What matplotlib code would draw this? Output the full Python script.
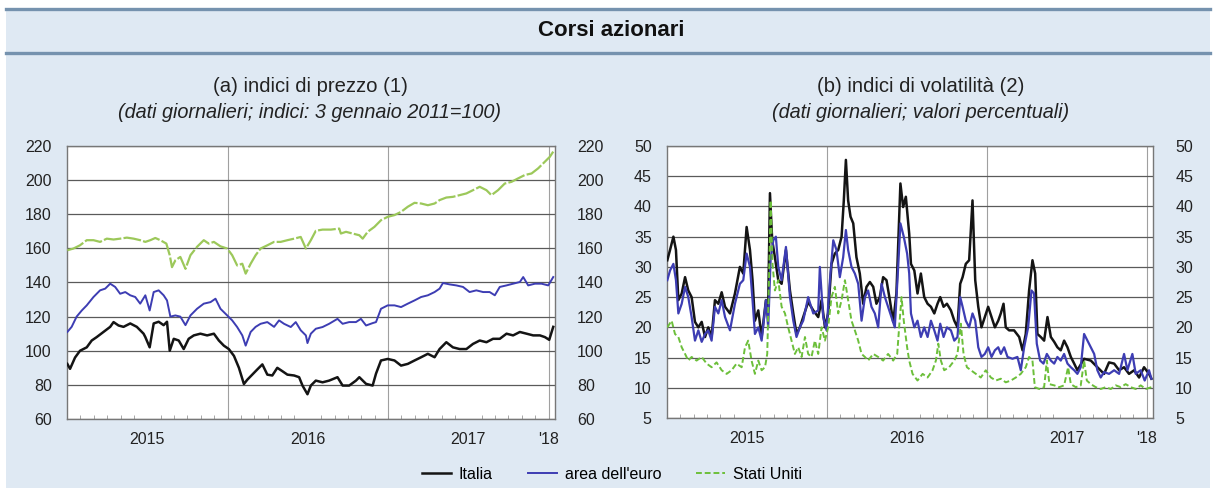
import numpy as np
import matplotlib.pyplot as plt
from matplotlib.patches import Rectangle
from matplotlib.lines import Line2D

plt.rcParams['font.family'] = ['Liberation Sans', 'DejaVu Sans']

# dates are given as years elapsed since 1 January 2015
START_YEAR = 2015

# ----------------------------------------------------------------------------
# (a) price indices (3 Jan 2011 = 100)
# ----------------------------------------------------------------------------
ita_price_t = [0.002, 0.019, 0.050, 0.081, 0.123, 0.154, 0.185, 0.227, 0.269, 0.290,
               0.321, 0.352, 0.394, 0.435, 0.477, 0.488, 0.515, 0.540, 0.571, 0.602,
               0.623, 0.640, 0.665, 0.696, 0.727, 0.758, 0.790, 0.831, 0.873, 0.915,
               0.946, 0.977, 1.008, 1.040, 1.071, 1.102, 1.123, 1.154, 1.185, 1.217,
               1.248, 1.279, 1.310, 1.342, 1.373, 1.415, 1.446, 1.467, 1.498, 1.519,
               1.550, 1.592, 1.633, 1.685, 1.717, 1.758, 1.800, 1.821, 1.863, 1.904,
               1.925, 1.956, 1.998, 2.040, 2.081, 2.123, 2.165, 2.206, 2.248, 2.290,
               2.321, 2.363, 2.404, 2.446, 2.488, 2.529, 2.571, 2.613, 2.654, 2.696,
               2.738, 2.779, 2.821, 2.863, 2.904, 2.946, 2.977, 3.004, 3.029]
ita_price_v = [92.3, 89.4, 96.0, 100.0, 102.0, 106.0, 108.0, 111.0, 114.0, 116.8,
               114.8, 114.0, 116.0, 114.0, 110.0, 108.0, 102.0, 116.0, 117.0, 115.0,
               117.0, 100.0, 107.0, 106.0, 101.0, 107.0, 109.0, 110.0, 109.0, 110.0,
               106.0, 103.0, 101.0, 97.0, 90.0, 80.5, 83.0, 86.0, 89.0, 92.0,
               86.0, 85.5, 90.0, 88.0, 86.0, 85.5, 84.5, 79.6, 74.5, 79.6,
               82.5, 81.5, 82.5, 84.5, 79.6, 79.6, 82.5, 84.5, 80.6, 79.6,
               86.6, 94.3, 95.2, 94.3, 91.3, 92.3, 94.3, 96.2, 98.2, 96.2,
               101.0, 105.0, 102.0, 101.0, 101.0, 104.0, 106.0, 105.0, 107.0, 107.0,
               110.0, 109.0, 111.0, 110.0, 109.0, 109.0, 108.0, 106.4, 114.0]

eur_price_t = [0.002, 0.029, 0.060, 0.092, 0.123, 0.165, 0.206, 0.238, 0.269, 0.300,
               0.331, 0.363, 0.394, 0.425, 0.456, 0.488, 0.515, 0.540, 0.571, 0.602,
               0.623, 0.644, 0.675, 0.706, 0.738, 0.769, 0.810, 0.852, 0.894, 0.925,
               0.956, 0.998, 1.029, 1.060, 1.092, 1.113, 1.144, 1.175, 1.206, 1.248,
               1.290, 1.321, 1.352, 1.394, 1.425, 1.456, 1.488, 1.498, 1.519, 1.550,
               1.592, 1.633, 1.685, 1.717, 1.758, 1.800, 1.831, 1.863, 1.904, 1.925,
               1.956, 1.998, 2.040, 2.081, 2.123, 2.165, 2.206, 2.248, 2.290, 2.321,
               2.342, 2.383, 2.425, 2.467, 2.508, 2.550, 2.592, 2.633, 2.665, 2.696,
               2.738, 2.779, 2.821, 2.842, 2.873, 2.915, 2.956, 2.998, 3.029]
eur_price_v = [111.0, 114.0, 120.0, 123.6, 126.6, 131.5, 135.4, 136.4, 139.3, 137.4,
               133.4, 134.4, 132.5, 131.5, 127.6, 132.5, 123.6, 134.4, 135.4, 132.5,
               129.5, 120.0, 120.7, 120.0, 115.0, 120.7, 124.6, 127.6, 128.5, 130.5,
               124.6, 120.7, 117.8, 113.9, 109.0, 103.0, 111.0, 114.0, 115.8, 116.8,
               114.0, 117.8, 115.8, 113.9, 116.8, 112.0, 109.0, 104.5, 110.0, 112.9,
               113.9, 115.8, 118.7, 115.8, 116.8, 116.8, 118.7, 114.8, 116.2, 116.8,
               124.6, 126.6, 126.6, 125.6, 127.6, 129.5, 131.5, 132.5, 134.4, 136.4,
               139.7, 138.9, 138.3, 137.4, 134.4, 135.4, 134.4, 134.4, 132.5, 137.4,
               138.3, 139.3, 140.3, 143.2, 138.3, 139.3, 139.3, 138.3, 143.2]

usa_price_t = [0.002, 0.040, 0.081, 0.123, 0.165, 0.206, 0.248, 0.290, 0.331, 0.373,
               0.415, 0.456, 0.488, 0.519, 0.550, 0.581, 0.619, 0.640, 0.654, 0.675,
               0.706, 0.738, 0.769, 0.810, 0.852, 0.883, 0.915, 0.956, 0.998, 1.029,
               1.060, 1.092, 1.113, 1.144, 1.175, 1.206, 1.248, 1.290, 1.331, 1.373,
               1.415, 1.456, 1.488, 1.519, 1.550, 1.592, 1.644, 1.696, 1.706, 1.738,
               1.779, 1.821, 1.842, 1.873, 1.915, 1.956, 1.998, 2.040, 2.081, 2.123,
               2.165, 2.206, 2.248, 2.290, 2.321, 2.363, 2.404, 2.446, 2.488, 2.529,
               2.571, 2.613, 2.644, 2.685, 2.727, 2.769, 2.810, 2.852, 2.894, 2.935,
               2.977, 3.008, 3.029]
usa_price_v = [158.9, 159.9, 161.8, 164.8, 164.8, 163.8, 165.7, 165.2, 165.7, 166.3,
               165.7, 164.8, 163.8, 164.8, 166.1, 164.8, 162.8, 156.0, 149.0, 153.0,
               155.0, 148.0, 156.0, 160.9, 164.8, 162.8, 163.8, 161.2, 159.9, 156.0,
               150.0, 151.0, 145.2, 151.0, 156.0, 159.9, 161.8, 163.8, 163.8, 164.8,
               165.7, 166.7, 159.9, 164.8, 170.3, 171.0, 171.0, 171.6, 168.7, 169.7,
               168.7, 167.7, 165.7, 169.7, 172.6, 176.5, 178.5, 179.5, 181.4, 184.4,
               186.7, 186.3, 185.3, 186.3, 188.3, 189.8, 190.2, 191.2, 192.2, 194.1,
               196.1, 194.1, 191.2, 194.1, 198.0, 199.0, 201.0, 203.0, 203.9, 206.9,
               210.8, 213.7, 216.7]

# ----------------------------------------------------------------------------
# (b) implied volatility (percent)
# ----------------------------------------------------------------------------
ita_vol_t = [0.002, 0.019, 0.040, 0.056, 0.071, 0.092, 0.113, 0.133, 0.154, 0.175,
             0.196, 0.217, 0.238, 0.258, 0.279, 0.300, 0.321, 0.342, 0.363, 0.394,
             0.425, 0.456, 0.477, 0.498, 0.519, 0.535, 0.550, 0.571, 0.592, 0.619,
             0.633, 0.644, 0.658, 0.675, 0.696, 0.717, 0.744, 0.769, 0.790, 0.810,
             0.831, 0.852, 0.883, 0.915, 0.946, 0.967, 0.988, 1.008, 1.029, 1.050,
             1.071, 1.092, 1.106, 1.119, 1.133, 1.148, 1.165, 1.185, 1.206, 1.227,
             1.248, 1.269, 1.290, 1.310, 1.331, 1.352, 1.373, 1.394, 1.415, 1.435,
             1.460, 1.477, 1.494, 1.515, 1.526, 1.547, 1.567, 1.588, 1.609, 1.630,
             1.651, 1.672, 1.692, 1.709, 1.730, 1.751, 1.776, 1.797, 1.817, 1.834,
             1.849, 1.869, 1.890, 1.911, 1.928, 1.947, 1.967, 1.988, 2.009, 2.030,
             2.051, 2.072, 2.088, 2.105, 2.119, 2.140, 2.171, 2.203, 2.224, 2.244,
             2.265, 2.286, 2.303, 2.317, 2.338, 2.359, 2.380, 2.401, 2.422, 2.442,
             2.463, 2.484, 2.505, 2.526, 2.547, 2.567, 2.609, 2.651, 2.692, 2.734,
             2.765, 2.797, 2.828, 2.859, 2.890, 2.922, 2.953, 2.984, 3.015, 3.030]
ita_vol_v = [31.1, 32.8, 35.0, 32.8, 24.5, 25.6, 28.3, 26.1, 25.0, 20.9,
             20.0, 20.9, 18.4, 20.0, 18.4, 24.5, 23.9, 25.8, 23.4, 22.3,
             25.6, 30.0, 28.9, 36.6, 32.8, 27.8, 21.1, 22.8, 18.4, 24.5,
             23.4, 42.2, 34.4, 31.6, 27.8, 27.2, 32.8, 26.1, 22.3, 18.9,
             20.0, 21.7, 24.2, 22.8, 21.7, 24.5, 20.0, 22.3, 30.5, 32.2,
             32.8, 35.0, 41.0, 47.7, 41.0, 38.3, 37.2, 31.6, 28.9, 23.9,
             26.7, 27.5, 26.7, 23.9, 25.0, 28.3, 27.8, 24.5, 20.9, 25.6,
             43.8, 39.9, 41.6, 35.5, 30.5, 29.4, 25.6, 28.9, 25.0, 23.9,
             23.4, 22.3, 23.9, 25.0, 23.4, 23.9, 22.8, 21.1, 20.0, 27.2,
             28.3, 30.5, 31.1, 41.0, 27.8, 23.4, 20.0, 21.7, 23.4, 21.7,
             20.0, 21.1, 22.3, 23.9, 20.0, 19.5, 19.5, 18.4, 16.2, 18.9,
             26.1, 31.1, 28.9, 18.9, 18.4, 17.8, 21.7, 18.4, 17.6, 16.7,
             16.2, 17.8, 16.7, 15.1, 14.0, 12.9, 14.8, 14.5, 13.4, 12.3,
             14.2, 14.0, 12.9, 13.4, 12.3, 12.9, 11.7, 13.4, 12.3, 11.5]

eur_vol_t = [0.002, 0.019, 0.040, 0.056, 0.071, 0.092, 0.113, 0.133, 0.154, 0.175,
             0.196, 0.217, 0.238, 0.258, 0.279, 0.300, 0.321, 0.342, 0.363, 0.394,
             0.425, 0.456, 0.477, 0.498, 0.519, 0.535, 0.550, 0.571, 0.592, 0.619,
             0.633, 0.648, 0.665, 0.681, 0.696, 0.717, 0.744, 0.769, 0.790, 0.810,
             0.831, 0.852, 0.883, 0.915, 0.946, 0.956, 0.977, 0.998, 1.019, 1.040,
             1.060, 1.081, 1.102, 1.119, 1.133, 1.154, 1.175, 1.196, 1.217, 1.238,
             1.258, 1.279, 1.300, 1.321, 1.342, 1.363, 1.383, 1.404, 1.425, 1.446,
             1.460, 1.481, 1.502, 1.515, 1.526, 1.547, 1.567, 1.588, 1.609, 1.630,
             1.651, 1.672, 1.692, 1.709, 1.730, 1.751, 1.776, 1.797, 1.817, 1.834,
             1.849, 1.869, 1.890, 1.911, 1.928, 1.947, 1.967, 1.988, 2.009, 2.030,
             2.051, 2.072, 2.088, 2.109, 2.130, 2.161, 2.192, 2.213, 2.234, 2.259,
             2.280, 2.296, 2.313, 2.334, 2.355, 2.376, 2.401, 2.422, 2.442, 2.463,
             2.484, 2.505, 2.526, 2.547, 2.567, 2.588, 2.609, 2.630, 2.651, 2.672,
             2.692, 2.713, 2.734, 2.765, 2.797, 2.828, 2.859, 2.880, 2.911, 2.932,
             2.963, 2.988, 3.015, 3.030]
eur_vol_v = [27.8, 29.4, 30.5, 27.8, 22.3, 23.9, 26.7, 25.0, 21.7, 17.8,
             19.5, 17.6, 18.9, 19.5, 17.8, 23.4, 22.3, 24.5, 21.7, 19.5,
             23.9, 27.2, 27.8, 32.2, 30.0, 24.5, 18.9, 20.0, 17.8, 24.5,
             20.0, 31.1, 34.4, 35.0, 30.0, 27.8, 33.3, 25.0, 21.1, 18.4,
             20.0, 21.1, 25.0, 22.3, 22.8, 30.0, 21.7, 19.5, 27.8, 34.4,
             32.8, 28.3, 31.6, 36.1, 32.8, 30.0, 28.9, 27.2, 21.1, 25.0,
             26.1, 23.4, 22.3, 20.0, 27.2, 25.0, 23.4, 21.7, 20.0, 30.0,
             37.2, 35.0, 32.2, 28.9, 22.3, 20.0, 21.1, 18.4, 20.0, 18.4,
             21.1, 19.5, 17.8, 20.6, 18.4, 20.0, 19.5, 17.8, 18.4, 25.0,
             23.4, 21.1, 20.0, 22.3, 21.1, 16.7, 15.1, 15.6, 16.7, 15.1,
             16.2, 16.7, 15.6, 16.7, 15.1, 14.8, 15.1, 12.9, 16.7, 20.0,
             26.1, 25.6, 17.3, 14.5, 14.0, 15.6, 14.5, 14.0, 15.1, 14.5,
             15.6, 14.0, 13.4, 12.9, 12.3, 13.4, 18.9, 17.8, 16.7, 15.6,
             12.9, 11.7, 12.6, 12.3, 12.9, 12.3, 15.6, 12.9, 15.6, 12.3,
             12.9, 11.2, 12.9, 11.5]

usa_vol_t = [0.002, 0.029, 0.050, 0.071, 0.092, 0.113, 0.133, 0.154, 0.185, 0.217,
             0.248, 0.279, 0.310, 0.342, 0.373, 0.404, 0.435, 0.467, 0.488, 0.508,
             0.529, 0.550, 0.571, 0.592, 0.613, 0.627, 0.640, 0.648, 0.660, 0.675,
             0.696, 0.717, 0.738, 0.758, 0.779, 0.800, 0.821, 0.842, 0.863, 0.883,
             0.904, 0.925, 0.946, 0.967, 0.988, 1.008, 1.029, 1.050, 1.071, 1.092,
             1.113, 1.133, 1.154, 1.175, 1.196, 1.217, 1.238, 1.258, 1.290, 1.321,
             1.352, 1.383, 1.415, 1.440, 1.452, 1.467, 1.481, 1.502, 1.515, 1.536,
             1.567, 1.599, 1.630, 1.661, 1.682, 1.697, 1.713, 1.734, 1.765, 1.797,
             1.817, 1.838, 1.855, 1.876, 1.901, 1.932, 1.963, 1.994, 2.026, 2.057,
             2.088, 2.119, 2.151, 2.182, 2.213, 2.244, 2.265, 2.286, 2.301, 2.328,
             2.359, 2.376, 2.392, 2.422, 2.453, 2.484, 2.509, 2.526, 2.557, 2.588,
             2.609, 2.626, 2.651, 2.682, 2.713, 2.744, 2.776, 2.807, 2.838, 2.869,
             2.901, 2.932, 2.963, 2.995, 3.030]
usa_vol_v = [20.0, 21.1, 18.9, 18.4, 16.7, 15.6, 14.5, 15.1, 14.5, 15.1,
             14.0, 13.4, 14.2, 12.9, 12.3, 12.9, 14.0, 13.4, 16.7, 17.8,
             14.5, 12.3, 14.5, 12.9, 13.4, 15.6, 30.0, 41.0, 30.5, 26.1,
             27.8, 23.4, 22.3, 20.0, 17.8, 15.6, 16.7, 15.1, 18.4, 15.6,
             15.1, 17.8, 15.6, 20.0, 17.8, 20.0, 25.0, 26.7, 22.3, 24.5,
             27.8, 24.5, 21.1, 19.5, 17.8, 15.6, 15.1, 14.5, 15.6, 15.1,
             14.5, 15.6, 14.5, 15.6, 20.0, 25.0, 21.1, 16.7, 14.5, 12.3,
             11.2, 12.3, 11.7, 12.9, 14.5, 17.3, 14.5, 12.9, 13.4, 14.5,
             15.6, 20.6, 15.6, 13.4, 12.9, 12.3, 11.7, 12.9, 11.7, 11.2,
             11.5, 10.9, 11.2, 11.7, 12.3, 13.4, 15.1, 14.5, 10.1, 9.8,
             10.1, 14.5, 10.6, 10.4, 10.1, 10.4, 13.4, 10.6, 10.1, 10.4,
             14.5, 11.2, 10.6, 10.1, 9.8, 10.1, 9.8, 10.4, 10.1, 10.6,
             10.1, 9.8, 10.4, 9.8, 10.1]

series_names = ['Italia', "area dell'euro", 'Stati Uniti']
price_ticks = [60, 80, 100, 120, 140, 160, 180, 200, 220]
vol_ticks = [5, 10, 15, 20, 25, 30, 35, 40, 45, 50]
year_ticks = [2015.5, 2016.5, 2017.5, 2018.0]
year_labels = ['2015', '2016', '2017', "'18"]

C_ITA = '#141414'
C_EUR = '#3d3db3'
C_USA = '#9cc85a'
C_USA_VOL = '#6cbf3a'
BG = '#dfe9f3'
W, H = 1214, 490


def years(t):
    return np.array(t) + START_YEAR


def style_panel(ax, ticks):
    ax.set_xlim(2015, 2018.04)
    ax.set_ylim(ticks[0], ticks[-1])
    ax.set_facecolor('white')
    ax.set_yticks(ticks)
    ax.tick_params(axis='y', length=0, labelsize=11.5, pad=11, colors='#222222')
    ax.grid(axis='y', color='#5a5a5a', lw=0.9)
    ax.set_axisbelow(True)
    for yr in (2016, 2017, 2018):
        ax.axvline(yr, color='#a0a0a0', lw=0.8, zorder=0.5)
    ax.set_xticks(year_ticks)
    ax.set_xticklabels(year_labels)
    ax.set_xticks(np.arange(2015, 2018.01, 1 / 12), minor=True)
    ax.tick_params(axis='x', which='major', length=0, labelsize=11.5, pad=9,
                   colors='#222222')
    ax.tick_params(axis='x', which='minor', direction='in', length=3, color='#999999')
    for s in ax.spines.values():
        s.set_color('#777777')
        s.set_linewidth(1.0)
    # labels on the right side too
    twin = ax.twinx()
    twin.set_ylim(ticks[0], ticks[-1])
    twin.set_yticks(ticks)
    twin.tick_params(axis='y', length=0, labelsize=11.5, pad=16, colors='#222222')
    for s in twin.spines.values():
        s.set_visible(False)


fig = plt.figure(figsize=(W / 100, H / 100), dpi=100)
fig.patch.set_facecolor('white')

# light blue box with the title band
fig.add_artist(Rectangle((6 / W, 2 / H), 1204 / W, 480 / H, transform=fig.transFigure,
                         facecolor=BG, edgecolor='none', zorder=-5))
for y_px in (9, 53):
    fig.add_artist(Line2D([6 / W, 1210 / W], [1 - y_px / H, 1 - y_px / H],
                          transform=fig.transFigure, color='#7592ae', lw=2.4))

fig.text(611 / W, 1 - 31 / H, 'Corsi azionari', ha='center', va='center',
         fontsize=16, fontweight='bold', color='#111111')

fig.text(310 / W, 1 - 87 / H, '(a) indici di prezzo (1)', ha='center', va='center',
         fontsize=14.6, color='#222222')
fig.text(310 / W, 1 - 113 / H, '(dati giornalieri; indici: 3 gennaio 2011=100)',
         ha='center', va='center', fontsize=14.3, style='italic', color='#222222')
fig.text(921 / W, 1 - 87 / H, '(b) indici di volatilità (2)', ha='center', va='center',
         fontsize=14.6, color='#222222')
fig.text(921 / W, 1 - 113 / H, '(dati giornalieri; valori percentuali)',
         ha='center', va='center', fontsize=14.3, style='italic', color='#222222')

# panel (a)
ax1 = fig.add_axes([67 / W, 71 / H, 488 / W, 273 / H])
style_panel(ax1, price_ticks)
ax1.plot(years(ita_price_t), ita_price_v, color=C_ITA, lw=1.8, zorder=3)
ax1.plot(years(eur_price_t), eur_price_v, color=C_EUR, lw=1.4, zorder=3)
ax1.plot(years(usa_price_t), usa_price_v, color=C_USA, lw=1.6, zorder=3,
         linestyle=(0, (8, 1)))

# panel (b)
ax2 = fig.add_axes([667 / W, 72 / H, 486 / W, 272 / H])
style_panel(ax2, vol_ticks)
ax2.plot(years(ita_vol_t), ita_vol_v, color=C_ITA, lw=1.8, zorder=3)
ax2.plot(years(eur_vol_t), eur_vol_v, color=C_EUR, lw=1.6, zorder=3)
ax2.plot(years(usa_vol_t), usa_vol_v, color=C_USA_VOL, lw=1.4, zorder=3,
         linestyle=(0, (3, 1.5)))

# legend
handles = [Line2D([], [], color=C_ITA, lw=1.8),
           Line2D([], [], color=C_EUR, lw=1.4),
           Line2D([], [], color=C_USA_VOL, lw=1.4, linestyle=(0, (3, 1.5)))]
fig.legend(handles, series_names, loc='center', bbox_to_anchor=(612 / W, 1 - 474 / H),
           ncol=3, frameon=False, fontsize=11.5, handlelength=1.8,
           columnspacing=2.2, handletextpad=0.5)

fig.savefig('out.png', dpi=100, facecolor=fig.get_facecolor())
